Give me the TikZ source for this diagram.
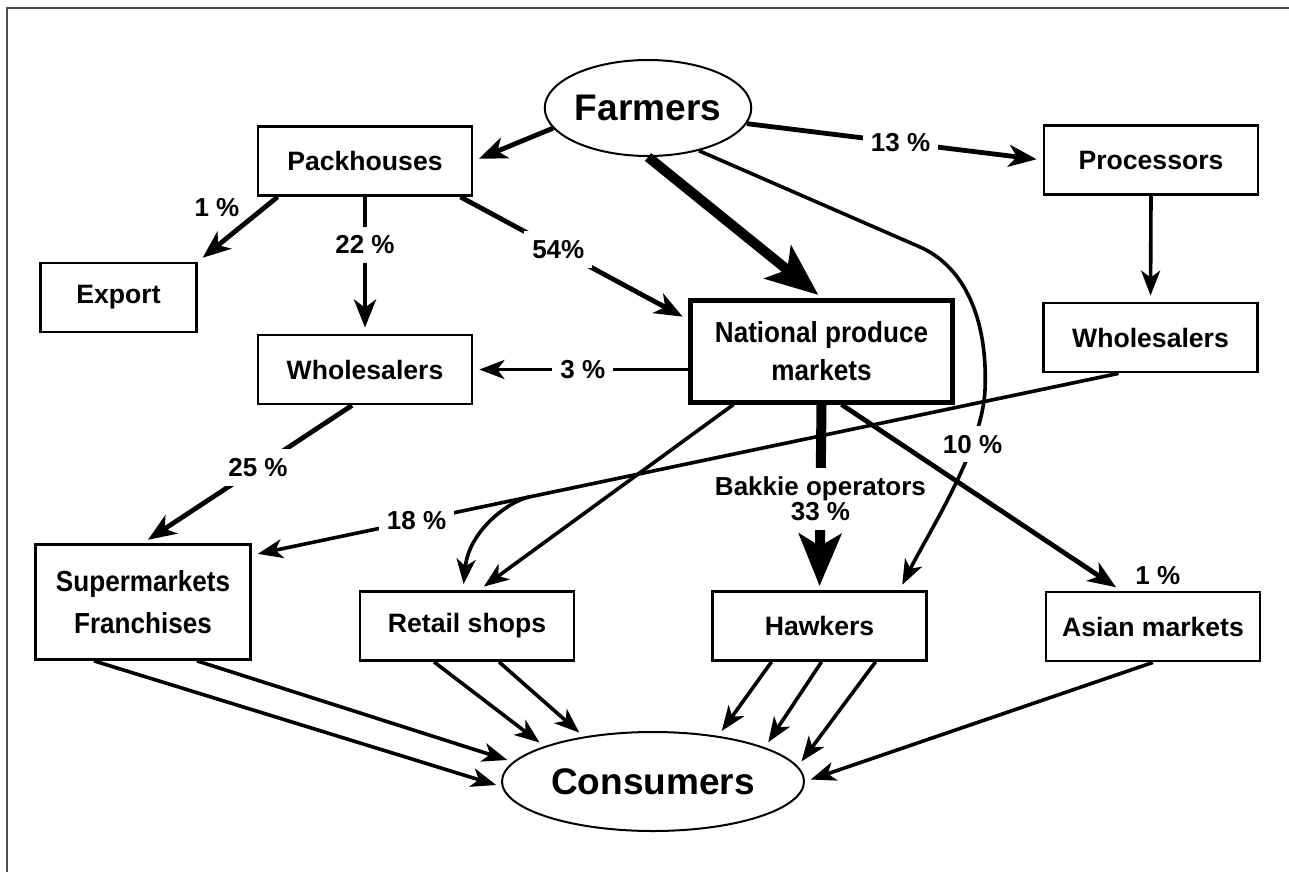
\documentclass[tikz,border=0pt]{standalone}
\usepackage{fontspec}
\setmainfont{Liberation Sans}
\newfontfamily\narrowsans[FakeStretch=0.9]{Liberation Sans}
\usepackage{tikz}
\usetikzlibrary{arrows.meta}
\usetikzlibrary{positioning}
\usetikzlibrary{shapes.geometric}

\begin{document}
\begin{tikzpicture}[x=0.5pt,y=-0.5pt,
    box/.style={draw,line width=1.4pt,minimum width=107pt,minimum height=34.5pt,inner sep=2pt,align=center,font=\bfseries\fontsize{13.3}{16}\selectfont},
    oval/.style={draw,ellipse,line width=1pt,inner sep=0pt,font=\bfseries\fontsize{18.5}{22}\selectfont},
    lbl/.style={fill=white,inner xsep=4pt,inner ysep=4.5pt,font=\bfseries\fontsize{13}{15}\selectfont},
    lblfree/.style={inner sep=2pt,font=\bfseries\fontsize{13}{15}\selectfont},
    flow/.style={line width=1.8pt,shorten >=3pt,-{Stealth[length=12.5pt,width=9.5pt,inset=3.5pt]}},
    bigflow/.style={line width=2.4pt,shorten >=3pt,-{Stealth[length=14pt,width=11pt,inset=4pt]}},
    hugeflow/.style={line width=5pt,shorten >=2pt,-{Stealth[length=26pt,width=21pt,inset=6pt]}}]
    \useasboundingbox (0,0) rectangle (1289,872);
    \draw[black!70,line width=1pt] (6.5,872) -- (6.5,8.5) -- (1289,8.5);

    \node[oval,minimum width=96pt,minimum height=48pt] (farmers) at (648,108) {Farmers};
    \node[box] (pack) at (365,161) {Packhouses};
    \node[box] (proc) at (1151,160) {Processors};
    \node[box,minimum width=78pt] (export) at (118.5,297.5) {Export};
    \node[box] (whl) at (365,369.5) {Wholesalers};
    \node[box,line width=2.5pt,minimum width=131pt,minimum height=51pt,font=\narrowsans\bfseries\fontsize{14.5}{19}\selectfont] (npm) at (821.5,351) {National produce\\markets};
    \node[box] (whr) at (1150.5,337.5) {Wholesalers};
    \node[box,minimum width=107.5pt,minimum height=57.5pt,font=\narrowsans\bfseries\fontsize{14.5}{21}\selectfont] (super) at (143,602) {Supermarkets\\Franchises};
    \node[box] (retail) at (467,626) {Retail shops};
    \node[box] (hawkers) at (819.5,626) {Hawkers};
    \node[box] (asian) at (1153,626.5) {Asian markets};
    \node[oval,minimum width=151pt,minimum height=49.5pt] (consumers) at (653,781.5) {Consumers};

    \draw[bigflow] (farmers.192) -- (pack.east);
    \draw[bigflow] (farmers.-9) -- node[lbl,pos=.52] {13 \%} (proc.west);
    \draw[hugeflow] (farmers.south) -- (npm.north);

    \draw[bigflow] ([xshift=10.5pt]pack.south west) -- node[lblfree,pos=.4,above left=0pt] {1 \%} (export.north east);
    \draw[bigflow] (pack.south) -- node[lbl,pos=.35] {22 \%} (whl.north);
    \draw[bigflow] ([xshift=-6.5pt]pack.south east) -- node[lbl,pos=.43] {54\%} ([yshift=-11pt]npm.north west);
    \draw[flow] (npm.west |- whl.east) -- node[lbl,pos=.49] {3 \%} (whl.east);
    \draw[flow] (proc.south) -- (whr.north);

    \draw[flow] ([xshift=-16pt]whr.south) -- coordinate[pos=.68] (split) node[lbl,pos=.81] {18 \%} ([yshift=-6pt]super.north east);
    \draw[flow] (split) .. controls +(-20,4.2) and +(6,-60) .. ([xshift=-2pt]retail.north);
    \draw[flow] ([xshift=-44pt]npm.south) -- ([xshift=6pt]retail.north);
    \draw[bigflow] ([xshift=-6.5pt]whl.south) -- node[lbl,pos=.45] {25 \%} (super.north);
    \draw[hugeflow] (npm.south) -- node[lbl,pos=.51,align=center,inner xsep=2pt,font=\bfseries\fontsize{13}{12.5}\selectfont] {Bakkie operators\\33 \%} (hawkers.north);
    \draw[bigflow] ([xshift=10pt]npm.south) -- ([xshift=-16pt]asian.north) node[lblfree,above right=0pt and 4pt] {1 \%};
    \draw[flow] (farmers.-40) -- (920,247) .. controls (965,267) and (988,320) .. (985,390)
        .. controls (982,450) and (930,530) .. ([xshift=40pt]hawkers.north) node[lbl,pos=.28] {10 \%};

    \draw[flow] ([xshift=-24.5pt]super.south) -- (consumers.182);
    \draw[flow] ([xshift=27pt]super.south) -- (consumers.172);
    \draw[flow] ([xshift=-16.5pt]retail.south) -- (consumers.162);
    \draw[flow] ([xshift=16pt]retail.south) -- (consumers.147);
    \draw[flow] ([xshift=-24pt]hawkers.south) -- (consumers.35);
    \draw[flow] ([xshift=1pt]hawkers.south) -- (consumers.17);
    \draw[flow] ([xshift=28pt]hawkers.south) -- (consumers.6);
    \draw[flow] (asian.south) -- (consumers.east);
\end{tikzpicture}
\end{document}
